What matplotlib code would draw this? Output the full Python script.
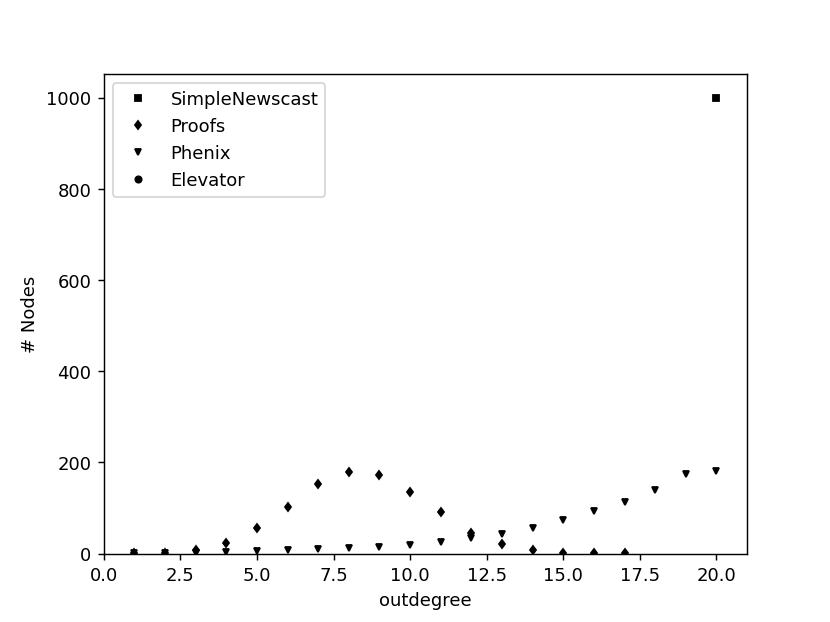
import numpy as np
import matplotlib.pyplot as plt

# outdegree distribution per protocol
simple_x = [20]
simple_y = [1000]

proofs_x = list(range(1, 18))
proofs_y = [2, 2, 7, 23, 56, 102, 153, 178, 172, 136,
            91, 46, 21, 8, 1, 1, 1]

phenix_x = list(range(1, 21))
phenix_y = [1, 1, 2, 3, 6, 8, 10, 12, 15, 19,
            26, 35, 42, 56, 73, 94, 114, 140, 174, 182]

elevator_x = []
elevator_y = []

fig = plt.figure(figsize=(6.4, 4.8), dpi=129.7)
ms = 3.5
plt.plot(simple_x, simple_y, 's', color='k', markersize=ms, label='SimpleNewscast')
plt.plot(proofs_x, proofs_y, 'd', color='k', markersize=ms, label='Proofs')
plt.plot(phenix_x, phenix_y, 'v', color='k', markersize=ms, label='Phenix')
plt.plot(elevator_x, elevator_y, 'o', color='k', markersize=ms, label='Elevator')

plt.xlim(left=0, right=21)
plt.ylim(bottom=0, top=1052)
plt.xlabel('outdegree')
plt.ylabel('# Nodes')
plt.legend(loc='upper left')
plt.savefig('out.png')
